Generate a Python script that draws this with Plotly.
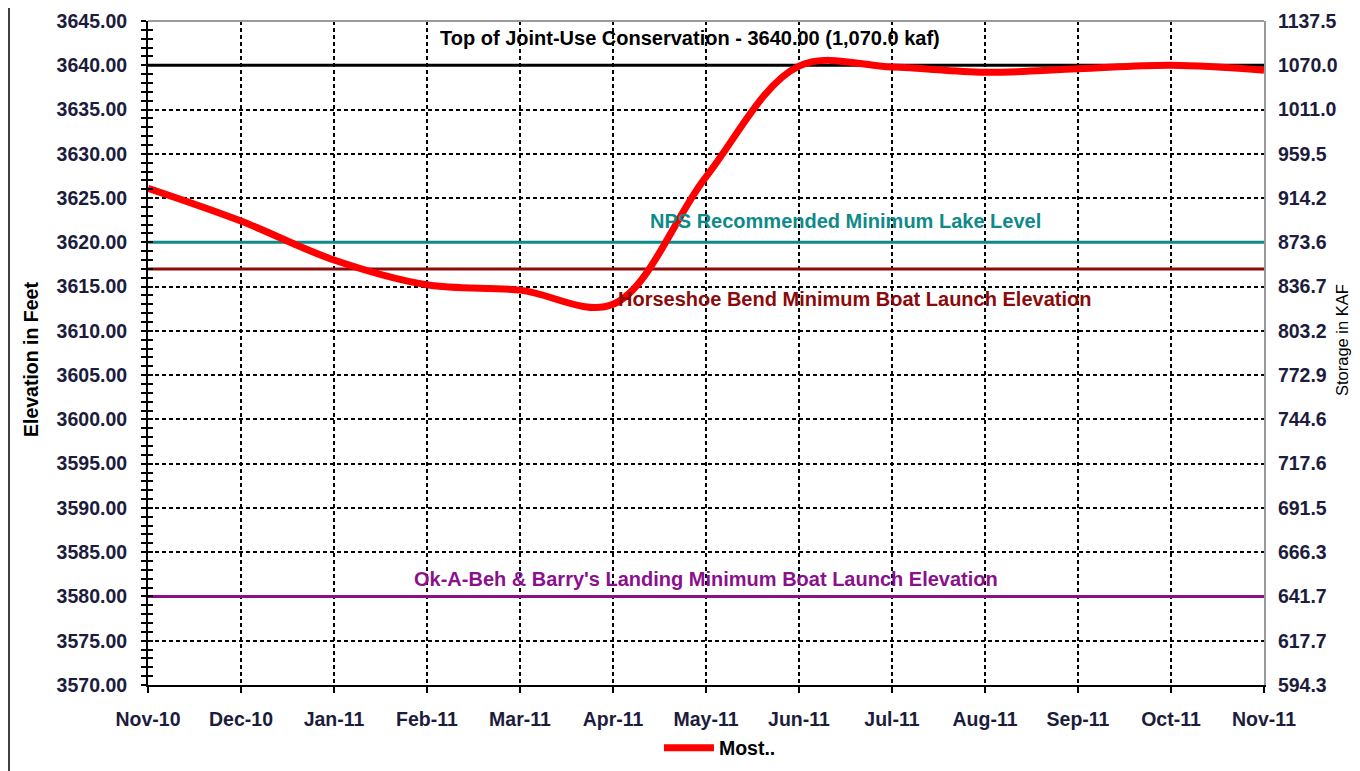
import plotly.graph_objects as go

months = ["Nov-10", "Dec-10", "Jan-11", "Feb-11", "Mar-11", "Apr-11", "May-11",
          "Jun-11", "Jul-11", "Aug-11", "Sep-11", "Oct-11", "Nov-11"]
elevation = [3626.1, 3622.4, 3618.0, 3615.2, 3614.6, 3613.0, 3627.4,
             3639.9, 3639.8, 3639.2, 3639.6, 3640.0, 3639.45]

elev_ticks = [3570, 3575, 3580, 3585, 3590, 3595, 3600, 3605, 3610, 3615,
              3620, 3625, 3630, 3635, 3640, 3645]
storage_labels = ["594.3", "617.7", "641.7", "666.3", "691.5", "717.6", "744.6",
                  "772.9", "803.2", "836.7", "873.6", "914.2", "959.5", "1011.0",
                  "1070.0", "1137.5"]

ref_names = ["Top of Joint-Use Conservation - 3640.00 (1,070.0 kaf)",
             "NPS Recommended Minimum Lake Level",
             "Horseshoe Bend Minimum Boat Launch Elevation",
             "Ok-A-Beh & Barry's Landing Minimum Boat Launch Elevation"]
ref_levels = [3640.0, 3620.0, 3617.0, 3580.0]
ref_colors = ["#000000", "#0E8A8A", "#8B0A0A", "#8B108B"]
ref_label_x = [5.83, 7.5, 7.6, 6.0]
ref_label_y = [3643.1, 3622.4, 3613.6, 3582.0]

xs = list(range(len(months)))
FONT = "Liberation Sans, Arial, sans-serif"
TICKCOL = "#1c1c3c"
FS = 19.5

# page body has an 8px margin; plot area spans page x 148..1264, y 21..685
PW, PH = 1116, 664

fig = go.Figure()

for name, lvl, col in zip(ref_names, ref_levels, ref_colors):
    fig.add_trace(go.Scatter(x=[xs[0], xs[-1]], y=[lvl, lvl], mode="lines",
                             line=dict(color=col, width=3), showlegend=False,
                             hoverinfo="skip"))

fig.add_trace(go.Scatter(x=xs, y=elevation, mode="lines", name="Most..",
                         line=dict(color="#FF0000", width=7, shape="spline", smoothing=1.0)))

fig.add_trace(go.Scatter(x=[xs[0]], y=[elev_ticks[0]], yaxis="y2", mode="markers",
                         marker=dict(opacity=0), showlegend=False, hoverinfo="skip"))
fig.add_trace(go.Scatter(x=[xs[0]], y=[elev_ticks[0]], yaxis="y3", mode="markers",
                         marker=dict(opacity=0), showlegend=False, hoverinfo="skip"))

for name, col, lx, ly in zip(ref_names, ref_colors, ref_label_x, ref_label_y):
    fig.add_annotation(x=lx, y=ly, text="<b>%s</b>" % name, showarrow=False,
                       font=dict(family=FONT, size=20, color=col),
                       xanchor="center", yanchor="middle")

fig.add_annotation(xref="paper", yref="paper", x=(31 - 148) / PW, y=(685 - 360) / PH,
                   text="<b>Elevation in Feet</b>", textangle=-90, showarrow=False,
                   font=dict(family=FONT, size=FS, color="#000000"),
                   xanchor="center", yanchor="middle")
fig.add_annotation(xref="paper", yref="paper", x=(1342 - 148) / PW, y=(685 - 340) / PH,
                   text="Storage in KAF", textangle=-90, showarrow=False,
                   font=dict(family=FONT, size=16.5, color="#000000"),
                   xanchor="center", yanchor="middle")

yr = [elev_ticks[0], elev_ticks[-1]]
fig.update_layout(
    width=1352, height=763,
    margin=dict(l=140, r=96, t=13, b=86, autoexpand=False),
    paper_bgcolor="white", plot_bgcolor="white",
    font=dict(family=FONT, color=TICKCOL),
    showlegend=True,
    legend=dict(orientation="h", x=0.5125, xanchor="center", y=-0.095, yanchor="middle",
                font=dict(family=FONT, size=FS, color="#000000", weight="bold"),
                bgcolor="rgba(0,0,0,0)", itemwidth=50),
    xaxis=dict(range=[xs[0], xs[-1]], tickvals=xs, ticktext=months, automargin=False,
               showgrid=True, gridcolor="#000000", gridwidth=1.5, griddash="4px,3px",
               showline=True, linecolor="#000000", linewidth=2,
               ticks="outside", ticklen=6, tickwidth=2, tickcolor="#000000",
               ticklabelstandoff=10,
               tickfont=dict(family=FONT, size=FS, color=TICKCOL, weight="bold"),
               zeroline=False),
    yaxis=dict(range=yr, tickvals=elev_ticks, tickformat=".2f", automargin=False,
               showgrid=True, gridcolor="#000000", gridwidth=1.5, griddash="4px,3px",
               showline=True, linecolor="#000000", linewidth=2,
               ticks="outside", ticklen=5, tickwidth=2, tickcolor="#000000",
               minor=dict(dtick=1, ticks="outside", ticklen=5, tickwidth=1.5,
                          tickcolor="#000000", showgrid=False),
               ticklabelstandoff=10,
               tickfont=dict(family=FONT, size=FS, color=TICKCOL, weight="bold"),
               zeroline=False),
    yaxis3=dict(range=yr, overlaying="y", side="left", anchor="x", automargin=False,
                tickvals=elev_ticks, showticklabels=False, showgrid=False,
                ticks="inside", ticklen=5, tickwidth=2, tickcolor="#000000",
                minor=dict(dtick=1, ticks="inside", ticklen=5, tickwidth=1.5,
                           tickcolor="#000000", showgrid=False),
                zeroline=False, showline=False),
    yaxis2=dict(range=yr, overlaying="y", side="right", anchor="x", automargin=False,
                tickvals=elev_ticks, ticktext=storage_labels,
                showgrid=False, showline=True, linecolor="#9a9a9a", linewidth=2,
                ticks="", ticklabelstandoff=8,
                tickfont=dict(family=FONT, size=FS, color=TICKCOL, weight="bold"),
                zeroline=False),
)

fig.add_shape(type="line", xref="paper", yref="paper", x0=0, x1=1, y0=1, y1=1,
              line=dict(color="#9a9a9a", width=2))
fig.add_shape(type="line", xref="paper", yref="paper", x0=(9 - 148) / PW, x1=(9 - 148) / PW,
              y0=(685 - 771) / PH, y1=685 / PH, line=dict(color="#000000", width=1.5))

fig.write_html("out.html")
